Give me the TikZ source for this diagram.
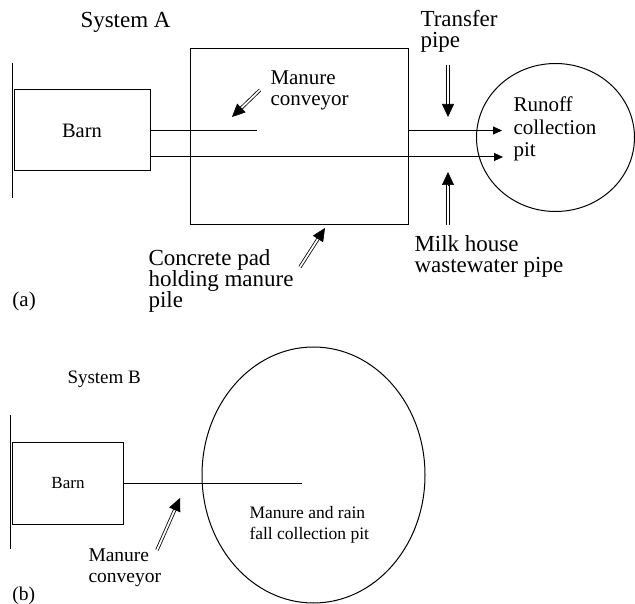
\documentclass[tikz,border=0pt]{standalone}
\usepackage{fontspec}
\setmainfont{Liberation Serif}
\usetikzlibrary{arrows.meta,calc,shapes.geometric}

\begin{document}
\begin{tikzpicture}[x=1pt, y=-1pt, line width=1pt,
    box/.style={draw, rectangle, inner sep=0pt},
    lab/.style={anchor=base west, inner sep=0pt, align=left, font=\fontsize{23}{21}\selectfont},
    inlab/.style={anchor=base west, inner sep=0pt, align=left, font=\fontsize{21}{22.5}\selectfont},
    flow/.style={-{Triangle[length=9pt,width=8pt]}},
    dblshaft/.style={double, double distance=1.8pt, line width=0.8pt},
    dblhead/.style={-{Triangle[length=13pt,width=12pt]}, line width=0.6pt}]
  \useasboundingbox (0,0) rectangle (635,604);

  % --- System A: barn, concrete pad and runoff pit ---
  % (multi-line labels are placed by the baseline of their last line)
  \node[lab] (titleA) at (80,28) {System A};
  \draw[line width=1.2pt] (12.5,63) -- (12.5,198);
  \node[box, minimum width=136pt, minimum height=81pt, font=\fontsize{20.5}{22}\selectfont] (barnA) at (82,130.5) {Barn};
  \node[box, minimum width=218pt, minimum height=176pt] (pad) at (299,137) {};
  \node[draw, ellipse, inner sep=0pt, minimum width=158pt, minimum height=148pt] (runoff) at (555.5,137.5) {};
  \node[inlab] (runofflab) at (513,157) {Runoff\\collection\\pit};

  \coordinate (convA) at (257,130.5);
  \coordinate (transend) at (502,130.5);
  \coordinate (wasteend) at (503,157);
  \draw (barnA.east) -- (convA);
  \draw[flow] (pad.east |- transend) -- (transend);
  \draw[flow] (barnA.east |- wasteend) -- (wasteend);

  \node[inlab, font=\fontsize{21}{21.5}\selectfont] (convlabA) at (270,106) {Manure\\conveyor};
  \node[lab, font=\fontsize{23}{21.5}\selectfont] (translab) at (420,48) {Transfer\\pipe};
  \node[lab] (milklab) at (414,273) {Milk house\\wastewater pipe};
  \node[lab] (padlab) at (148,308) {Concrete pad\\holding manure\\pile};
  \node[lab, font=\fontsize{21}{22}\selectfont] (tagA) at (12,306) {(a)};

  % pointer arrows of System A
  \coordinate (cvtail) at (260,90);   \coordinate (cvtip) at (232,117);
  \coordinate (trtail) at (448,65);   \coordinate (trtip) at (448,117);
  \coordinate (mktail) at (448,225);  \coordinate (mktip) at (448,172);
  \coordinate (pdtail) at (300,267);  \coordinate (pdtip) at (325,228);

  % --- System B: barn and collection pit ---
  \node[lab, font=\fontsize{19}{20}\selectfont] (titleB) at (67,383) {System B};
  \draw[line width=1.2pt] (10.5,415) -- (10.5,549);
  \node[box, minimum width=111pt, minimum height=82pt, font=\fontsize{17}{19}\selectfont] (barnB) at (68,483) {Barn};
  \node[draw, ellipse, inner sep=0pt, minimum width=223pt, minimum height=256pt] (pitB) at (313.5,475) {};
  \coordinate (convB) at (302,483);
  \draw (barnB.east) -- (convB);

  \node[lab, font=\fontsize{17.5}{21}\selectfont] (pitlab) at (249,539) {Manure and rain\\fall collection pit};
  \node[lab, font=\fontsize{19.5}{20.5}\selectfont] (convlabB) at (88,582) {Manure\\conveyor};
  \node[lab, font=\fontsize{19.5}{20}\selectfont] (tagB) at (12,600) {(b)};

  \coordinate (cbtail) at (157,550);  \coordinate (cbtip) at (180,498);

  % hollow (double) arrows
  \foreach \t/\h in {cvtail/cvtip, trtail/trtip, mktail/mktip, pdtail/pdtip, cbtail/cbtip} {
    \draw[dblshaft] (\t) -- ($(\h)!12pt!(\t)$);
    \draw[dblhead] ($(\h)!13pt!(\t)$) -- (\h);
  }
\end{tikzpicture}
\end{document}
